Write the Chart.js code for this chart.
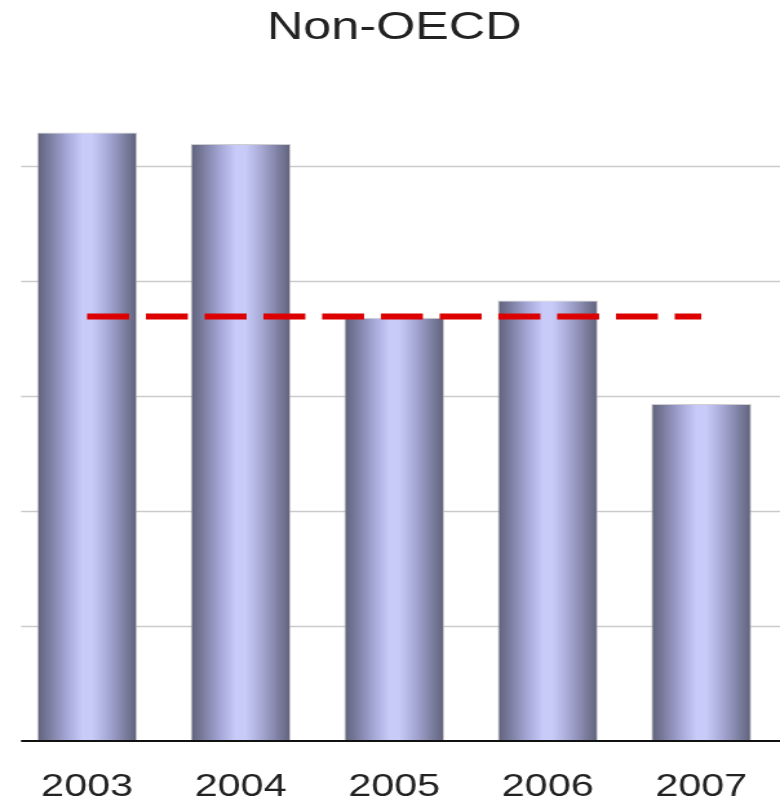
<!DOCTYPE html>
<html>
<head>
<meta charset="utf-8">
<script src="https://cdn.jsdelivr.net/npm/chart.js@4/dist/chart.umd.min.js"></script>
<style>
  html, body { margin: 0; padding: 0; background: #fff; }
</style>
</head>
<body>
<!-- the original is stretched sideways, so the canvas is drawn narrow and scaled up -->
<canvas id="chart" width="604" height="805" style="display:block;width:780px;height:805px"></canvas>
<script>
// ---------- data ----------
const categories = ['2003', '2004', '2005', '2006', '2007'];
const values = [5.29, 5.19, 3.68, 3.83, 2.93];
const referenceLine = [3.69, 3.69, 3.69, 3.69, 3.69];
const gridValues = [1, 2, 3, 4, 5];

const BAR_PCT = 0.652;

// cylinder look: dark edges, light middle
function barFill(ctx) {
  const chart = ctx.chart;
  const xs = chart.scales && chart.scales.x;
  if (!xs || ctx.dataIndex === undefined) return '#a6a8d8';
  const c = xs.getPixelForValue(ctx.dataIndex);
  const half = xs.width / categories.length * BAR_PCT / 2;
  if (!isFinite(c) || !isFinite(half) || half <= 0) return '#a6a8d8';
  const g = chart.ctx.createLinearGradient(c - half, 0, c + half, 0);
  g.addColorStop(0, '#5f617a');
  g.addColorStop(0.12, '#7a7c9e');
  g.addColorStop(0.3, '#a6a8d8');
  g.addColorStop(0.45, '#c8caf8');
  g.addColorStop(0.55, '#c8caf8');
  g.addColorStop(0.72, '#a4a6d2');
  g.addColorStop(0.88, '#7c7ea0');
  g.addColorStop(1, '#5f617a');
  return g;
}

// gridlines start a bit right of the plot edge, so draw them here
const gridPlugin = {
  id: 'grid',
  beforeDatasetsDraw(chart) {
    const c = chart.ctx, y = chart.scales.y;
    c.save();
    c.strokeStyle = '#cbcbcb';
    c.lineWidth = 1.6;
    gridValues.forEach(v => {
      const py = Math.round(y.getPixelForValue(v)) + 0.5;
      c.beginPath();
      c.moveTo(16.3, py);
      c.lineTo(chart.width, py);
      c.stroke();
    });
    c.restore();
  },
  afterDatasetsDraw(chart) {
    const c = chart.ctx, y = chart.scales.y;
    const py = y.getPixelForValue(0);
    c.save();
    c.strokeStyle = '#111';
    c.lineWidth = 2;
    c.beginPath();
    c.moveTo(16.3, py);
    c.lineTo(chart.width, py);
    c.stroke();
    c.restore();
  }
};

new Chart(document.getElementById('chart'), {
  data: {
    labels: categories,
    datasets: [
      {
        type: 'line',
        data: referenceLine,
        borderColor: '#dd0000',
        borderWidth: 6,
        borderDash: [32.5, 13],
        borderCapStyle: 'butt',
        pointRadius: 0,
        fill: false,
        order: 0
      },
      {
        type: 'bar',
        data: values,
        backgroundColor: barFill,
        borderColor: 'rgba(185,185,185,0.7)',
        borderWidth: { top: 1, left: 1, right: 1, bottom: 0 },
        borderSkipped: 'bottom',
        barPercentage: BAR_PCT,
        categoryPercentage: 1,
        order: 1
      }
    ]
  },
  options: {
    responsive: false,
    animation: false,
    layout: { padding: { left: 8, right: 1.5, top: 0, bottom: 0 } },
    plugins: {
      legend: { display: false },
      tooltip: { enabled: false },
      title: {
        display: true,
        text: 'Non-OECD',
        color: '#222',
        font: { family: 'Liberation Sans', size: 39, weight: 'normal' },
        padding: { top: 5, bottom: 45 }
      }
    },
    scales: {
      x: {
        grid: { display: false, drawTicks: false },
        border: { display: false },
        ticks: {
          color: '#222',
          padding: 2,
          font: { family: 'Liberation Sans', size: 32, lineHeight: 2.75 }
        },
        afterFit(scale) { scale.height = 64; }
      },
      y: {
        display: false,
        min: 0,
        max: 5.6
      }
    }
  },
  plugins: [gridPlugin]
});
</script>
</body>
</html>
